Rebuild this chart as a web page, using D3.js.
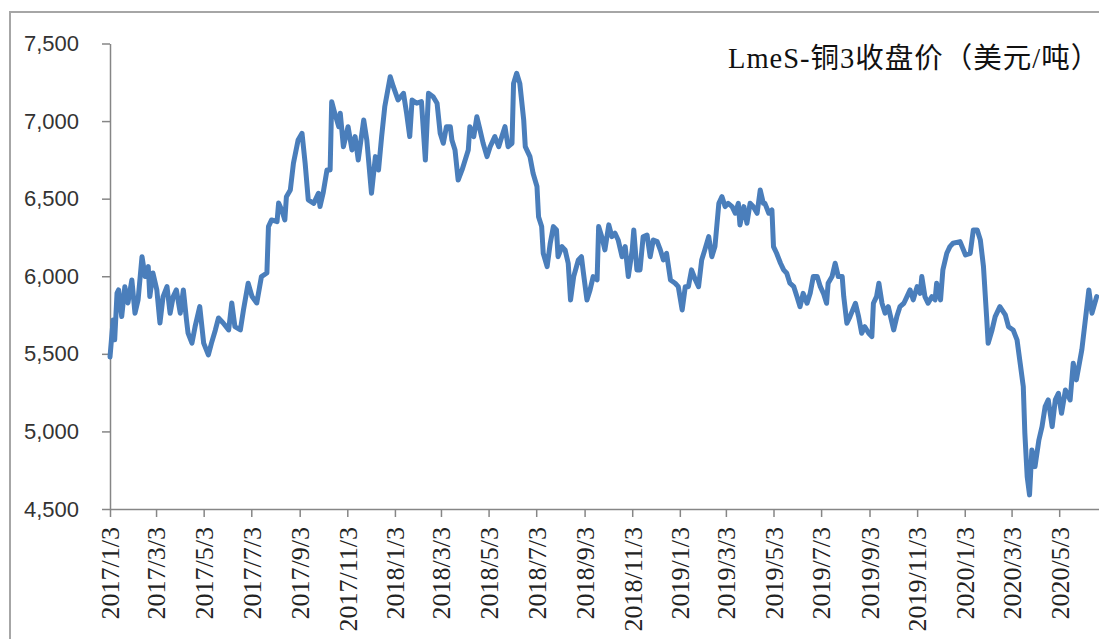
<!DOCTYPE html>
<html>
<head>
<meta charset="utf-8">
<script src="https://cdn.jsdelivr.net/npm/d3@7/dist/d3.min.js"></script>
<style>
  html, body { margin: 0; padding: 0; background: #fff; }
  svg { display: block; }
</style>
</head>
<body>
<svg id="chart" width="1099" height="639"></svg>
<script>
const chartTitle = "LmeS-铜3收盘价（美元/吨）";
const yTicks = [4500, 5000, 5500, 6000, 6500, 7000, 7500];
const xTickLabels = ["2017/1/3","2017/3/3","2017/5/3","2017/7/3","2017/9/3","2017/11/3",
  "2018/1/3","2018/3/3","2018/5/3","2018/7/3","2018/9/3","2018/11/3",
  "2019/1/3","2019/3/3","2019/5/3","2019/7/3","2019/9/3","2019/11/3",
  "2020/1/3","2020/3/3","2020/5/3"];
const xDomain = ["2017-01-03", "2020-06-23"];

const dates = [
"2017-01-03","2017-01-07","2017-01-09","2017-01-12","2017-01-14","2017-01-18","2017-01-22","2017-01-26","2017-01-31","2017-02-04",
"2017-02-08","2017-02-13","2017-02-17","2017-02-21","2017-02-23","2017-02-27","2017-03-04","2017-03-08","2017-03-12","2017-03-17",
"2017-03-21","2017-03-25","2017-03-29","2017-04-03","2017-04-07","2017-04-11","2017-04-13","2017-04-18","2017-04-22","2017-04-28",
"2017-05-03","2017-05-09","2017-05-13","2017-05-18","2017-05-22","2017-05-28","2017-06-04","2017-06-08","2017-06-12","2017-06-19",
"2017-06-23","2017-06-29","2017-07-04","2017-07-10","2017-07-16","2017-07-23","2017-07-25","2017-07-29","2017-08-05","2017-08-07",
"2017-08-11","2017-08-15","2017-08-17","2017-08-22","2017-08-26","2017-09-01","2017-09-06","2017-09-10","2017-09-14","2017-09-21",
"2017-09-27","2017-09-29","2017-10-03","2017-10-08","2017-10-12","2017-10-14","2017-10-18","2017-10-23","2017-10-25","2017-10-29",
"2017-11-04","2017-11-09","2017-11-13","2017-11-17","2017-11-24","2017-11-28","2017-12-04","2017-12-09","2017-12-13","2017-12-17",
"2017-12-21","2017-12-28","2018-01-01","2018-01-07","2018-01-14","2018-01-18","2018-01-22","2018-01-25","2018-01-31","2018-02-06",
"2018-02-11","2018-02-15","2018-02-21","2018-02-26","2018-03-02","2018-03-06","2018-03-10","2018-03-15","2018-03-17","2018-03-21",
"2018-03-25","2018-03-30","2018-04-03","2018-04-07","2018-04-09","2018-04-14","2018-04-18","2018-04-22","2018-04-26","2018-05-01",
"2018-05-05","2018-05-11","2018-05-16","2018-05-20","2018-05-24","2018-05-28","2018-06-02","2018-06-04","2018-06-08","2018-06-12",
"2018-06-17","2018-06-19","2018-06-25","2018-06-29","2018-07-04","2018-07-06","2018-07-10","2018-07-12","2018-07-17","2018-07-21",
"2018-07-25","2018-07-29","2018-07-31","2018-08-05","2018-08-09","2018-08-13","2018-08-16","2018-08-20","2018-08-26","2018-08-30",
"2018-09-01","2018-09-06","2018-09-10","2018-09-14","2018-09-19","2018-09-21","2018-09-25","2018-09-29","2018-10-04","2018-10-08",
"2018-10-12","2018-10-16","2018-10-21","2018-10-25","2018-10-29","2018-11-03","2018-11-05","2018-11-09","2018-11-13","2018-11-17",
"2018-11-22","2018-11-26","2018-11-30","2018-12-05","2018-12-09","2018-12-13","2018-12-17","2018-12-22","2018-12-28","2019-01-01",
"2019-01-06","2019-01-10","2019-01-14","2019-01-18","2019-01-23","2019-01-27","2019-01-31","2019-02-04","2019-02-09","2019-02-13",
"2019-02-17","2019-02-22","2019-02-26","2019-03-02","2019-03-06","2019-03-11","2019-03-15","2019-03-19","2019-03-21","2019-03-26",
"2019-03-30","2019-04-03","2019-04-07","2019-04-12","2019-04-16","2019-04-20","2019-04-22","2019-04-27","2019-05-01","2019-05-03",
"2019-05-07","2019-05-12","2019-05-16","2019-05-20","2019-05-24","2019-05-29","2019-06-02","2019-06-06","2019-06-10","2019-06-15",
"2019-06-19","2019-06-23","2019-06-28","2019-07-02","2019-07-06","2019-07-10","2019-07-12","2019-07-17","2019-07-21","2019-07-25",
"2019-07-30","2019-08-01","2019-08-05","2019-08-09","2019-08-16","2019-08-20","2019-08-24","2019-08-28","2019-09-02","2019-09-06",
"2019-09-08","2019-09-12","2019-09-15","2019-09-19","2019-09-23","2019-09-27","2019-10-04","2019-10-08","2019-10-12","2019-10-17",
"2019-10-21","2019-10-25","2019-10-29","2019-11-03","2019-11-07","2019-11-09","2019-11-13","2019-11-17","2019-11-22","2019-11-26",
"2019-11-28","2019-12-03","2019-12-06","2019-12-11","2019-12-15","2019-12-19","2019-12-28","2020-01-04","2020-01-10","2020-01-14",
"2020-01-19","2020-01-23","2020-01-27","2020-01-31","2020-02-02","2020-02-07","2020-02-11","2020-02-17","2020-02-24","2020-02-28",
"2020-03-05","2020-03-10","2020-03-14","2020-03-18","2020-03-20","2020-03-23","2020-03-26","2020-03-29","2020-04-02","2020-04-07",
"2020-04-11","2020-04-15","2020-04-19","2020-04-24","2020-04-28","2020-05-02","2020-05-06","2020-05-11","2020-05-17","2020-05-21",
"2020-05-25","2020-06-01","2020-06-05","2020-06-10","2020-06-14","2020-06-20"
];
const prices = [
5480,5718,5590,5892,5912,5740,5933,5828,5976,5762,
5848,6126,5998,6062,5869,6021,5912,5699,5869,5933,
5762,5869,5912,5762,5912,5718,5633,5569,5675,5804,
5569,5493,5569,5654,5731,5699,5654,5828,5675,5654,
5783,5955,5869,5828,5998,6021,6320,6363,6352,6472,
6427,6363,6513,6556,6728,6878,6921,6728,6492,6470,
6535,6449,6535,6685,6685,7125,7050,6964,7050,6835,
6964,6814,6900,6749,7007,6878,6535,6771,6685,6900,
7093,7286,7222,7136,7179,7050,6900,7136,7115,7125,
6749,7179,7157,7115,6921,6857,6964,6964,6878,6814,
6620,6685,6749,6814,6964,6900,7028,6943,6857,6771,
6835,6900,6835,6900,6964,6835,6857,7243,7308,7243,
7007,6835,6771,6664,6578,6384,6320,6148,6062,6213,
6320,6298,6126,6191,6170,6084,5847,5998,6105,6126,
6041,5847,5912,5998,5976,6320,6255,6170,6331,6255,
6277,6234,6126,6191,5998,6170,6298,6041,6041,6255,
6266,6126,6234,6223,6170,6105,6148,5976,5955,5933,
5783,5933,5933,6041,5976,5933,6105,6170,6255,6126,
6191,6470,6513,6449,6470,6449,6406,6470,6331,6449,
6342,6470,6449,6406,6556,6470,6470,6406,6427,6191,
6148,6084,6041,6019,5955,5933,5869,5804,5890,5826,
5890,5998,5998,5933,5890,5826,5955,5998,6084,5998,
5998,5869,5697,5740,5826,5740,5633,5675,5633,5611,
5826,5869,5955,5826,5762,5804,5654,5740,5804,5826,
5869,5912,5848,5933,5890,5998,5869,5826,5869,5848,
5955,5848,6041,6148,6191,6213,6223,6137,6148,6298,
6298,6234,6062,5740,5568,5654,5740,5804,5751,5675,
5654,5590,5440,5289,4989,4709,4591,4881,4773,4945,
5031,5160,5203,5031,5203,5246,5117,5267,5203,5440,
5332,5526,5697,5912,5762,5869
];

const parse = d3.timeParse("%Y-%m-%d");
const tickParse = d3.timeParse("%Y/%m/%d");
const data = dates.map((d, i) => ({ date: parse(d), value: prices[i] }));

const svg = d3.select("#chart");
const plotLeft = 110, plotRight = 1099, plotTop = 43.5, plotBottom = 509;

// outer border
svg.append("rect")
  .attr("x", 10).attr("y", 12).attr("width", 1200).attr("height", 800)
  .attr("fill", "#fff").attr("stroke", "#a6a6a6").attr("stroke-width", 2);

const x = d3.scaleTime().domain(xDomain.map(parse)).range([plotLeft, plotRight]);
const y = d3.scaleLinear().domain([4500, 7500]).range([plotBottom, plotTop]);

// y axis
const yAxis = svg.append("g")
  .attr("transform", `translate(${plotLeft},0)`)
  .call(d3.axisLeft(y).tickValues(yTicks).tickSize(8).tickPadding(23)
    .tickFormat(d3.format(",")).tickSizeOuter(0));
yAxis.select(".domain").attr("stroke", "#868686").attr("stroke-width", 1.5);
yAxis.selectAll(".tick line").attr("stroke", "#868686").attr("stroke-width", 1.5);
yAxis.selectAll(".tick text")
  .attr("fill", "#333")
  .style("font-family", "'Liberation Sans', Arial, sans-serif")
  .style("font-size", "22px");

// x axis
const xAxis = svg.append("g")
  .attr("transform", `translate(0,${plotBottom})`)
  .call(d3.axisBottom(x).tickValues(xTickLabels.map(tickParse)).tickSize(8)
    .tickSizeOuter(0).tickFormat((d, i) => xTickLabels[i]));
xAxis.select(".domain").attr("stroke", "#868686").attr("stroke-width", 1.5);
xAxis.selectAll(".tick line").attr("stroke", "#868686").attr("stroke-width", 1.5);
xAxis.selectAll(".tick text")
  .attr("fill", "#222")
  .attr("transform", "rotate(-90)")
  .attr("x", -18).attr("y", 0).attr("dy", "0.34em")
  .attr("text-anchor", "end")
  .style("font-family", "'Liberation Serif', 'Times New Roman', serif")
  .style("font-size", "26px");

// line
const line = d3.line().x(d => x(d.date)).y(d => y(d.value));
svg.append("path")
  .datum(data)
  .attr("d", line)
  .attr("fill", "none")
  .attr("stroke", "#4a7ebb")
  .attr("stroke-width", 5)
  .attr("stroke-linejoin", "round")
  .attr("stroke-linecap", "round");

// title
svg.append("text")
  .attr("x", 728).attr("y", 68)
  .attr("fill", "#111")
  .style("font-family", "'Liberation Serif', 'Noto Sans CJK SC', serif")
  .style("font-size", "28.5px")
  .style("letter-spacing", "1px")
  .text(chartTitle);
</script>
</body>
</html>
